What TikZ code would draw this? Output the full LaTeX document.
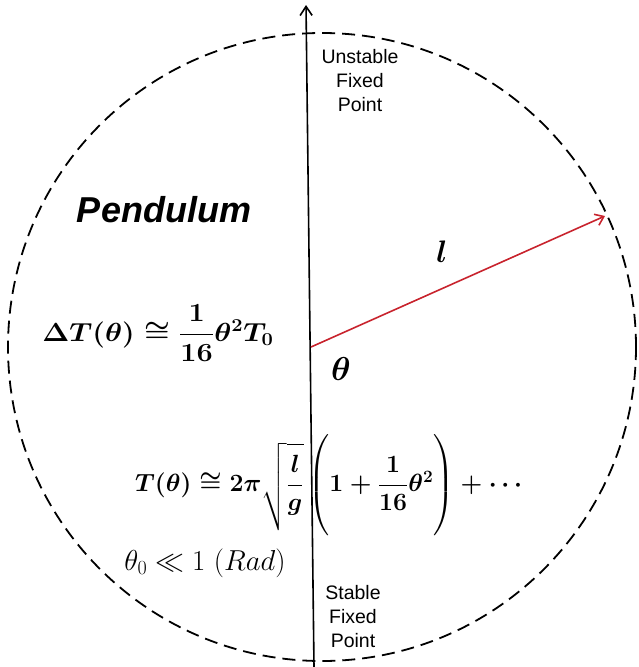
\documentclass[tikz,border=0pt]{standalone}
\usepackage{fontspec}
\usepackage{graphicx}
\usepackage{amsmath,amssymb,bm}
\newfontfamily\arialf{Liberation Sans}
\usetikzlibrary{arrows.meta}
\definecolor{pendred}{RGB}{200,35,45}
\newcommand{\myfmA}{\scalebox{1.16}[1.05]{$\Delta T(\theta) \cong \dfrac{1}{16}\theta^2 T_0$}}
\newcommand{\myfmB}{$T(\theta) \cong 2\pi\sqrt{\rule[-38pt]{0pt}{82pt}\dfrac{l}{g}}\left(\rule[-40pt]{0pt}{92pt}1+\dfrac{1}{16}\theta^2\right)+\cdots$}
\newcommand{\myfmC}{\scalebox{1.16}{$\theta_0 \ll 1\ (Rad)$}}
\begin{document}
\begin{tikzpicture}[x=1pt,y=-1pt,
  labeltext/.style={font=\arialf\fontsize{19.5}{24}\selectfont, align=center, inner sep=0pt},
  mathtext/.style={font=\fontsize{24}{29}\selectfont, inner sep=0pt},
  boldmathtext/.style={font=\boldmath\fontsize{24}{29}\selectfont, inner sep=0pt},
  boundary/.style={line width=1.8pt, dash pattern=on 13pt off 7pt},
  axisline/.style={line width=1.6pt, -{Straight Barb[length=9pt,width=12pt,line width=1.6pt]}},
  rodline/.style={line width=1.6pt, draw=pendred, -{Straight Barb[length=8pt,width=12pt,line width=1.6pt]}}]
\useasboundingbox (0,0) rectangle (638,667);
\draw[boundary] (322,347) circle[radius=314];
\coordinate (axbot) at (314,667);
\coordinate (axtop) at (306,5);
\draw[axisline] (axbot) -- (axtop);
\coordinate (pivot) at (311,347);
\coordinate (bob) at (605,216);
\draw[rodline] (pivot) -- (bob);
\node[labeltext] (unstable) at (360,81) {Unstable\\Fixed\\Point};
\node[labeltext] (stable) at (353,617) {Stable\\Fixed\\Point};
\node[inner sep=0pt, font=\arialf\bfseries\itshape\fontsize{36}{40}\selectfont] (title) at (164,210) {Pendulum};
\node[boldmathtext] (dT) at (158,333) {\myfmA};
\node[boldmathtext] (period) at (331,485) {\myfmB};
\node[mathtext] (small) at (205,563) {\myfmC};
\node[boldmathtext] (len) at (442,252) {\scalebox{1.25}{$l$}};
\node[boldmathtext] (ang) at (341,369) {\scalebox{1.33}{$\theta$}};
\end{tikzpicture}
\end{document}
